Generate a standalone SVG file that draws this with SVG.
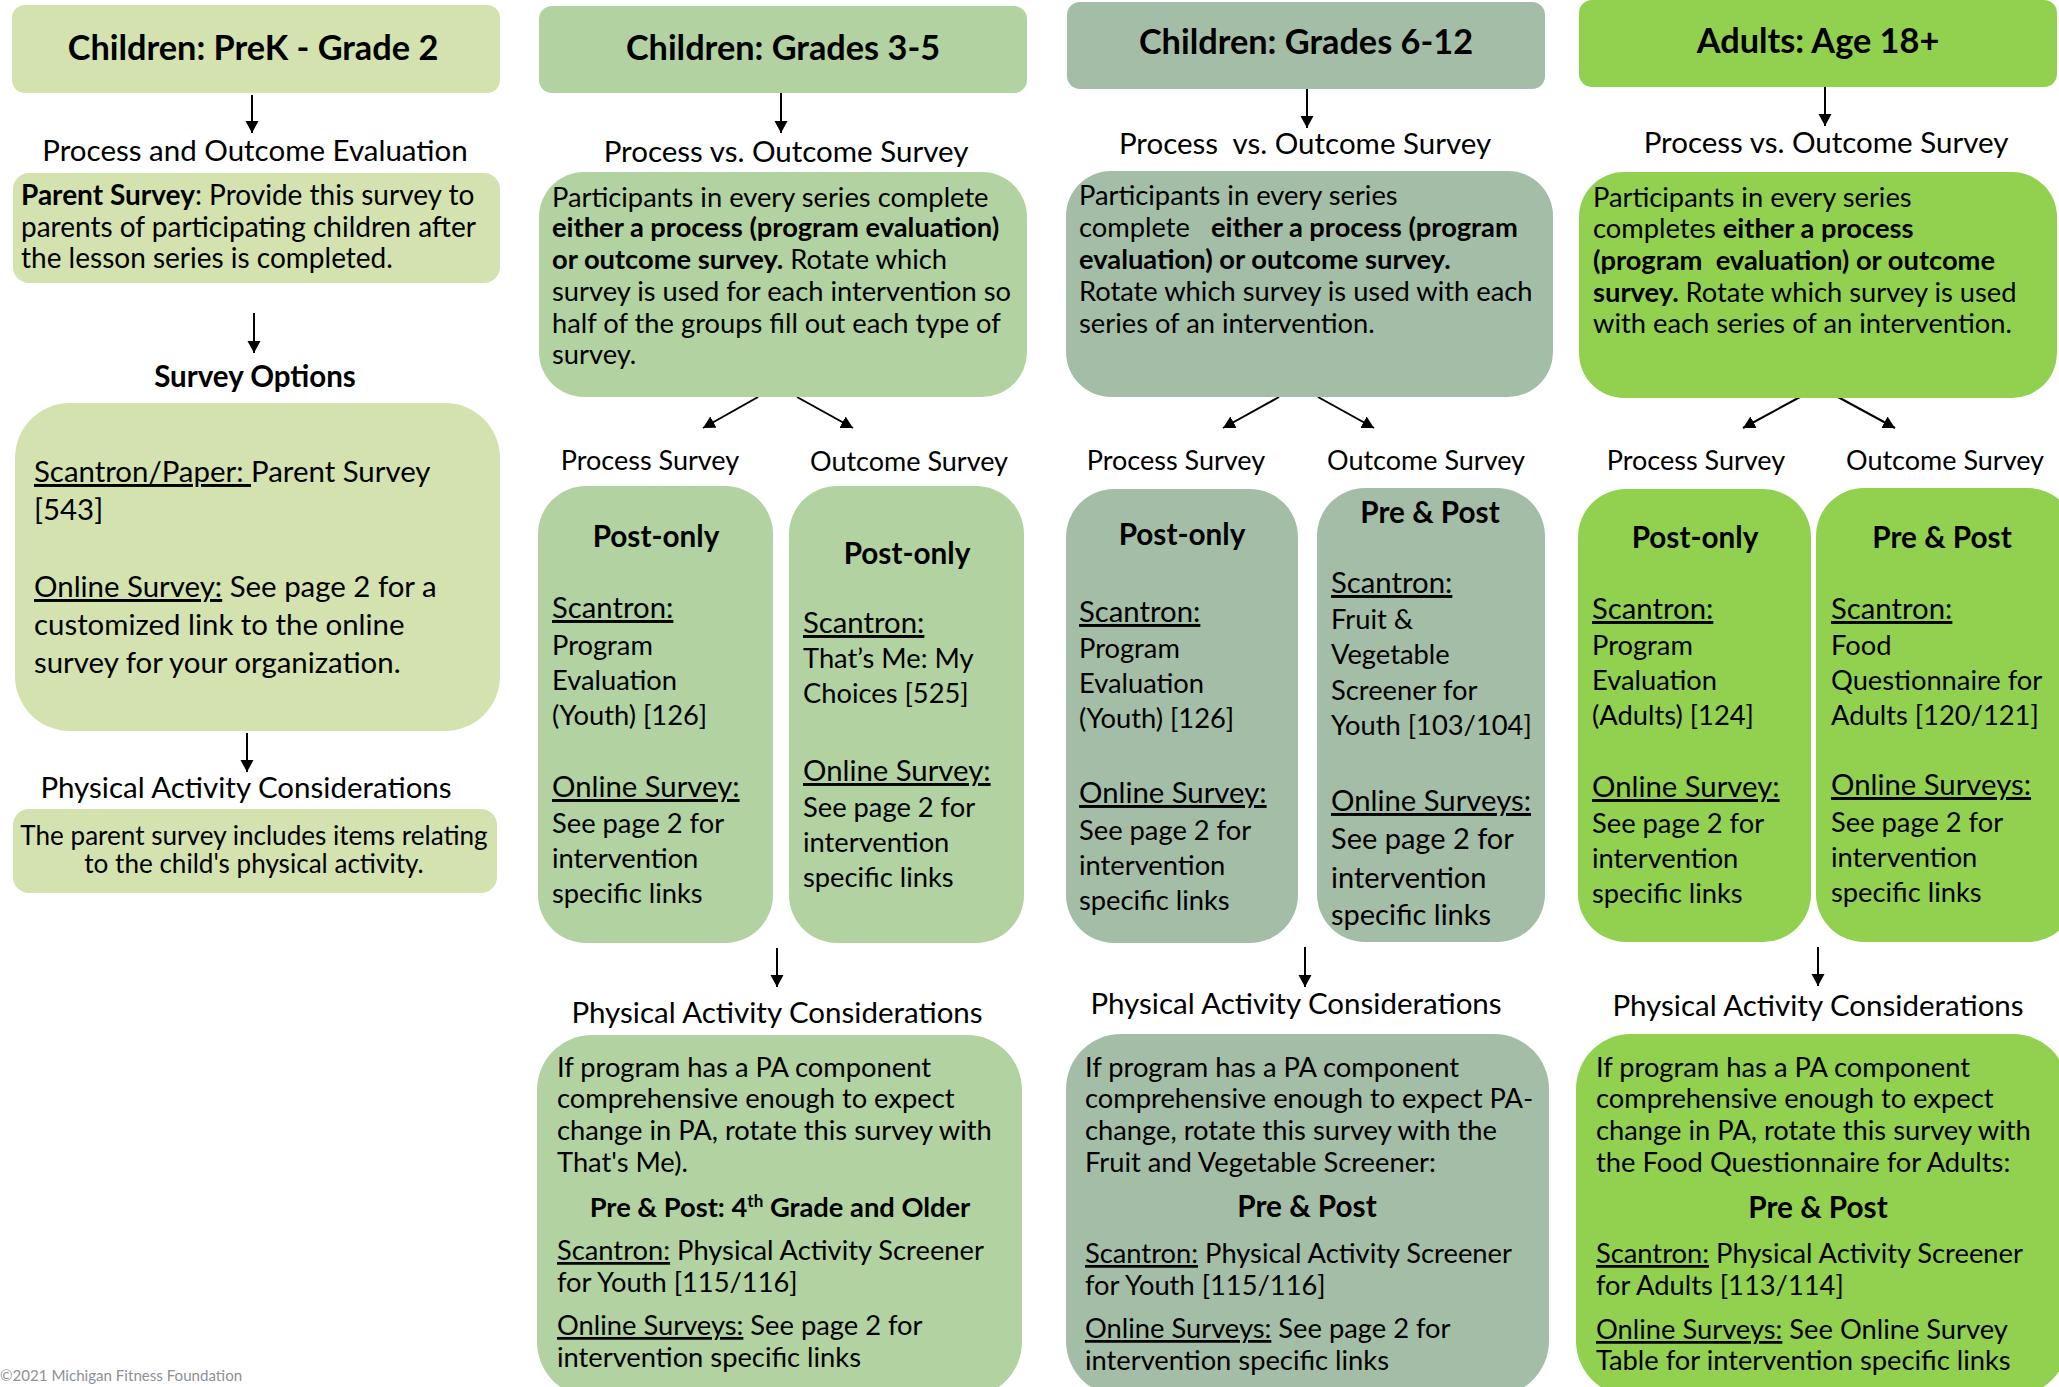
<svg xmlns="http://www.w3.org/2000/svg" width="2059" height="1387" viewBox="0 0 2059 1387">
<style>
text{font-family:Lato,"Liberation Sans",sans-serif;fill:#000}
.title{font-size:34.3px;font-weight:bold;text-anchor:middle}
.lbl{font-size:29.5px;text-anchor:middle}
.lbl2{font-size:27px;text-anchor:middle}
.body{font-size:27.3px}
.card{font-size:27.3px}
.ch{font-size:29.3px;text-decoration:underline}
.bh{font-size:29.7px;font-weight:bold;text-anchor:middle}
.b{font-weight:bold}
.u{text-decoration:underline}
.c1{fill:#d4e2b0}
.c2{fill:#b2d2a1}
.c3{fill:#a4bda6}
.c4{fill:#92d050}
.conn line{stroke:#000;stroke-width:2;marker-end:url(#ah)}
.copy{font-size:15.1px;fill:#8c9099}
</style>
<defs>
<marker id="ah" markerUnits="userSpaceOnUse" markerWidth="14" markerHeight="14" refX="12" refY="6.5" orient="auto">
<path d="M0,0 L12,6.5 L0,13 z" fill="#000"/>
</marker>
</defs>

<g id="connectors" class="conn">
<line x1="252" y1="95" x2="252" y2="133"/>
<line x1="254" y1="313" x2="254" y2="353"/>
<line x1="247" y1="733" x2="247" y2="772"/>
<line x1="781" y1="93" x2="781" y2="133"/>
<line x1="758" y1="397" x2="703" y2="428"/>
<line x1="797" y1="397" x2="853" y2="428"/>
<line x1="777" y1="948" x2="777" y2="987"/>
<line x1="1307" y1="89" x2="1307" y2="128"/>
<line x1="1279" y1="397" x2="1223" y2="428"/>
<line x1="1318" y1="397" x2="1374" y2="428"/>
<line x1="1305" y1="947" x2="1305" y2="987"/>
<line x1="1825" y1="87" x2="1825" y2="126"/>
<line x1="1800" y1="397" x2="1743" y2="428"/>
<line x1="1838" y1="397" x2="1895" y2="428"/>
<line x1="1818" y1="947" x2="1818" y2="986"/>
</g>

<!-- Column 1 -->
<g id="prek-header">
<rect class="c1" x="12" y="5" width="488" height="88" rx="13"/>
<text class="title" x="253" y="60">Children: PreK - Grade 2</text>
</g>
<text class="lbl" x="255" y="161">Process and Outcome Evaluation</text>
<g id="prek-parent">
<rect class="c1" x="13" y="173" width="487" height="110" rx="16"/>
<text style="font-size:28px" x="21" y="205"><tspan class="b">Parent Survey</tspan>: Provide this survey to</text>
<text style="font-size:28px" x="21" y="237">parents of participating children after</text>
<text style="font-size:28px" x="21" y="268">the lesson series is completed.</text>
</g>
<text class="lbl b" x="255" y="387">Survey Options</text>
<g id="prek-options">
<rect class="c1" x="15" y="403" width="485" height="328" rx="55"/>
<text style="font-size:29.4px" x="34" y="482"><tspan class="u">Scantron/Paper: </tspan>Parent Survey</text>
<text style="font-size:29.4px" x="34" y="520">[543]</text>
<text style="font-size:29.4px" x="34" y="597"><tspan class="u">Online Survey:</tspan> See page 2 for a</text>
<text style="font-size:29.4px" x="34" y="635">customized link to the online</text>
<text style="font-size:29.4px" x="34" y="673">survey for your organization.</text>
</g>
<text class="lbl" x="246" y="798">Physical Activity Considerations</text>
<g id="prek-pa">
<rect class="c1" x="13" y="809" width="484" height="84" rx="16"/>
<text style="font-size:26.1px;text-anchor:middle" x="254" y="845">The parent survey includes items relating</text>
<text style="font-size:26.1px;text-anchor:middle" x="254" y="873">to the child's physical activity.</text>
</g>

<!-- Column 2 -->
<g id="g35-header">
<rect class="c2" x="539" y="6" width="488" height="87" rx="13"/>
<text class="title" x="783" y="60">Children: Grades 3-5</text>
</g>
<text class="lbl" x="786" y="162">Process vs. Outcome Survey</text>
<g id="g35-main">
<rect class="c2" x="539" y="172" width="488" height="225" rx="45"/>
<text class="body" x="552" y="207">Participants in every series complete</text>
<text class="body b" x="552" y="237">either a process (program evaluation)</text>
<text class="body" x="552" y="269"><tspan class="b">or outcome survey.</tspan> Rotate which</text>
<text class="body" x="552" y="301">survey is used for each intervention so</text>
<text class="body" x="552" y="333">half of the groups fill out each type of</text>
<text class="body" x="552" y="364">survey.</text>
</g>
<text class="lbl2" x="650" y="470">Process Survey</text>
<text class="lbl2" x="909" y="471">Outcome Survey</text>
<g id="g35-process">
<rect class="c2" x="538" y="486" width="235" height="457" rx="48"/>
<text class="bh" x="656" y="547">Post-only</text>
<text class="ch" x="552" y="618">Scantron:</text>
<text class="card" x="552" y="655">Program</text>
<text class="card" x="552" y="690">Evaluation</text>
<text class="card" x="552" y="725">(Youth) [126]</text>
<text class="ch" x="552" y="797">Online Survey:</text>
<text class="card" x="552" y="833">See page 2 for</text>
<text class="card" x="552" y="868">intervention</text>
<text class="card" x="552" y="903">specific links</text>
</g>
<g id="g35-outcome">
<rect class="c2" x="789" y="486" width="235" height="457" rx="48"/>
<text class="bh" x="907" y="564">Post-only</text>
<text class="ch" x="803" y="633">Scantron:</text>
<text class="card" x="803" y="668">That’s Me: My</text>
<text class="card" x="803" y="703">Choices [525]</text>
<text class="ch" x="803" y="781">Online Survey:</text>
<text class="card" x="803" y="817">See page 2 for</text>
<text class="card" x="803" y="852">intervention</text>
<text class="card" x="803" y="887">specific links</text>
</g>
<text class="lbl" x="777" y="1023">Physical Activity Considerations</text>
<g id="g35-pa">
<rect class="c2" x="537" y="1035" width="485" height="362" rx="55"/>
<text class="body" x="557" y="1077">If program has a PA component</text>
<text class="body" x="557" y="1108">comprehensive enough to expect</text>
<text class="body" x="557" y="1140">change in PA, rotate this survey with</text>
<text class="body" x="557" y="1172">That's Me).</text>
<text class="body b" x="780" y="1217" text-anchor="middle">Pre &amp; Post: 4<tspan dy="-10" style="font-size:17px">th</tspan><tspan dy="10"> Grade and Older</tspan></text>
<text class="body" x="557" y="1260"><tspan class="u">Scantron:</tspan> Physical Activity Screener</text>
<text class="body" x="557" y="1292">for Youth [115/116]</text>
<text class="body" x="557" y="1335"><tspan class="u">Online Surveys:</tspan> See page 2 for</text>
<text class="body" x="557" y="1367">intervention specific links</text>
</g>

<!-- Column 3 -->
<g id="g612-header">
<rect class="c3" x="1067" y="2" width="478" height="87" rx="13"/>
<text class="title" x="1306" y="54">Children: Grades 6-12</text>
</g>
<text class="lbl" x="1305" y="154" xml:space="preserve">Process  vs. Outcome Survey</text>
<g id="g612-main">
<rect class="c3" x="1066" y="171" width="487" height="226" rx="45"/>
<text class="body" x="1079" y="205">Participants in every series</text>
<text class="body" x="1079" y="237">complete<tspan class="b" x="1211">either a process (program</tspan></text>
<text class="body b" x="1079" y="269">evaluation) or outcome survey.</text>
<text class="body" x="1079" y="301">Rotate which survey is used with each</text>
<text class="body" x="1079" y="333">series of an intervention.</text>
</g>
<text class="lbl2" x="1176" y="470">Process Survey</text>
<text class="lbl2" x="1426" y="470">Outcome Survey</text>
<g id="g612-process">
<rect class="c3" x="1066" y="489" width="232" height="454" rx="48"/>
<text class="bh" x="1182" y="545">Post-only</text>
<text class="ch" x="1079" y="622">Scantron:</text>
<text class="card" x="1079" y="658">Program</text>
<text class="card" x="1079" y="693">Evaluation</text>
<text class="card" x="1079" y="728">(Youth) [126]</text>
<text class="ch" x="1079" y="803">Online Survey:</text>
<text class="card" x="1079" y="840">See page 2 for</text>
<text class="card" x="1079" y="875">intervention</text>
<text class="card" x="1079" y="910">specific links</text>
</g>
<g id="g612-outcome">
<rect class="c3" x="1317" y="488" width="228" height="454" rx="48"/>
<text class="bh" x="1430" y="523">Pre &amp; Post</text>
<text class="ch" x="1331" y="593">Scantron:</text>
<text class="card" x="1331" y="629">Fruit &amp;</text>
<text class="card" x="1331" y="664">Vegetable</text>
<text class="card" x="1331" y="700">Screener for</text>
<text class="card" x="1331" y="735">Youth [103/104]</text>
<text class="ch" x="1331" y="811">Online Surveys:</text>
<text class="card" x="1331" y="849" style="font-size:29px">See page 2 for</text>
<text class="card" x="1331" y="888" style="font-size:29px">intervention</text>
<text class="card" x="1331" y="925" style="font-size:29px">specific links</text>
</g>
<text class="lbl" x="1296" y="1014">Physical Activity Considerations</text>
<g id="g612-pa">
<rect class="c3" x="1066" y="1034" width="483" height="362" rx="55"/>
<text class="body" x="1085" y="1077">If program has a PA component</text>
<text class="body" x="1085" y="1108">comprehensive enough to expect PA-</text>
<text class="body" x="1085" y="1140">change, rotate this survey with the</text>
<text class="body" x="1085" y="1172">Fruit and Vegetable Screener:</text>
<text class="bh" x="1307" y="1217">Pre &amp; Post</text>
<text class="body" x="1085" y="1263"><tspan class="u">Scantron:</tspan> Physical Activity Screener</text>
<text class="body" x="1085" y="1295">for Youth [115/116]</text>
<text class="body" x="1085" y="1338"><tspan class="u">Online Surveys:</tspan> See page 2 for</text>
<text class="body" x="1085" y="1370">intervention specific links</text>
</g>

<!-- Column 4 -->
<g id="adult-header">
<rect class="c4" x="1579" y="0" width="478" height="87" rx="13"/>
<text class="title" x="1818" y="53">Adults: Age 18+</text>
</g>
<text class="lbl" x="1826" y="153">Process vs. Outcome Survey</text>
<g id="adult-main">
<rect class="c4" x="1579" y="172" width="478" height="226" rx="45"/>
<text class="body" x="1593" y="207">Participants in every series</text>
<text class="body" x="1593" y="238">completes <tspan class="b">either a process</tspan></text>
<text class="body b" x="1593" y="270" xml:space="preserve">(program  evaluation) or outcome</text>
<text class="body" x="1593" y="302"><tspan class="b">survey.</tspan> Rotate which survey is used</text>
<text class="body" x="1593" y="333">with each series of an intervention.</text>
</g>
<text class="lbl2" x="1696" y="470">Process Survey</text>
<text class="lbl2" x="1945" y="470">Outcome Survey</text>
<g id="adult-process">
<rect class="c4" x="1578" y="489" width="233" height="453" rx="48"/>
<text class="bh" x="1695" y="548">Post-only</text>
<text class="ch" x="1592" y="619">Scantron:</text>
<text class="card" x="1592" y="655">Program</text>
<text class="card" x="1592" y="690">Evaluation</text>
<text class="card" x="1592" y="725">(Adults) [124]</text>
<text class="ch" x="1592" y="797">Online Survey:</text>
<text class="card" x="1592" y="833">See page 2 for</text>
<text class="card" x="1592" y="868">intervention</text>
<text class="card" x="1592" y="903">specific links</text>
</g>
<g id="adult-outcome">
<rect class="c4" x="1816" y="488" width="260" height="454" rx="48"/>
<text class="bh" x="1942" y="548">Pre &amp; Post</text>
<text class="ch" x="1831" y="619">Scantron:</text>
<text class="card" x="1831" y="655">Food</text>
<text class="card" x="1831" y="690">Questionnaire for</text>
<text class="card" x="1831" y="725">Adults [120/121]</text>
<text class="ch" x="1831" y="795">Online Surveys:</text>
<text class="card" x="1831" y="832">See page 2 for</text>
<text class="card" x="1831" y="867">intervention</text>
<text class="card" x="1831" y="902">specific links</text>
</g>
<text class="lbl" x="1818" y="1016">Physical Activity Considerations</text>
<g id="adult-pa">
<rect class="c4" x="1576" y="1034" width="492" height="362" rx="55"/>
<text class="body" x="1596" y="1077">If program has a PA component</text>
<text class="body" x="1596" y="1108">comprehensive enough to expect</text>
<text class="body" x="1596" y="1140">change in PA, rotate this survey with</text>
<text class="body" x="1596" y="1172">the Food Questionnaire for Adults:</text>
<text class="bh" x="1818" y="1218">Pre &amp; Post</text>
<text class="body" x="1596" y="1263"><tspan class="u">Scantron:</tspan> Physical Activity Screener</text>
<text class="body" x="1596" y="1295">for Adults [113/114]</text>
<text class="body" x="1596" y="1339"><tspan class="u">Online Surveys:</tspan> See Online Survey</text>
<text class="body" x="1596" y="1370">Table for intervention specific links</text>
</g>

<text class="copy" x="0" y="1381">©2021 Michigan Fitness Foundation</text>
</svg>
